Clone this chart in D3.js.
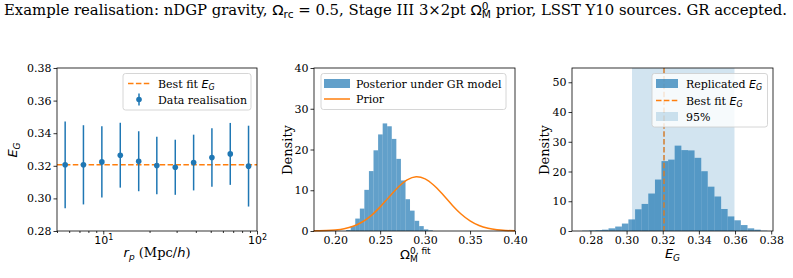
<!DOCTYPE html>
<html>
<head>
<meta charset="utf-8">
<script src="https://cdn.jsdelivr.net/npm/d3@7"></script>
<style>
  body { margin: 0; background: #fff; }
</style>
</head>
<body>
<div id="container"></div>
<script>
/* DATA */
// left panel: one data realisation of E_G against r_p
const rpCentres = [5.65, 7.43, 9.79, 12.9, 17.0, 22.3, 29.4, 38.7, 50.9, 67.0, 88.1];
const egValues  = [0.3206, 0.3206, 0.3224, 0.3265, 0.3228, 0.3202, 0.3191, 0.3220, 0.3251, 0.3273, 0.3198];
const egErrors  = [0.0266, 0.0243, 0.0218, 0.0199, 0.0184, 0.0176, 0.0169, 0.0171, 0.0179, 0.0190, 0.0248];
const bestFitEG = 0.3207;

// middle panel: posterior histogram of Omega_M under GR + prior curve
const omBinEdges = [0.2121, 0.2172, 0.2223, 0.2274, 0.2324, 0.2375, 0.2426, 0.2477, 0.2528, 0.2578,
                    0.2629, 0.2680, 0.2731, 0.2782, 0.2832, 0.2883, 0.2934, 0.2985, 0.3036, 0.3086];
const omDensity  = [0.25, 1.2, 3.05, 5.5, 10.1, 14.7, 19.8, 23.7, 26.4, 25.7,
                    22.6, 17.7, 12.4, 7.8, 5.0, 2.5, 1.2, 0.4, 0.15];
const priorOm      = [0.176, 0.18, 0.19, 0.20, 0.21, 0.22, 0.23, 0.24, 0.25, 0.26, 0.27, 0.28, 0.29,
                      0.30, 0.31, 0.32, 0.33, 0.34, 0.35, 0.36, 0.37, 0.38, 0.39, 0.40];
const priorDensity = [0.02, 0.04, 0.10, 0.25, 0.56, 1.17, 2.21, 3.79, 5.92, 8.37, 10.75, 12.55, 13.29,
                      12.79, 11.17, 8.87, 6.39, 4.18, 2.48, 1.34, 0.66, 0.29, 0.12, 0.04];

// right panel: replicated E_G histogram
const egBinEdges = [0.2754, 0.2791, 0.2827, 0.2864, 0.2900, 0.2937, 0.2974, 0.3010, 0.3047, 0.3083,
                    0.3120, 0.3157, 0.3193, 0.3230, 0.3266, 0.3303, 0.3340, 0.3376, 0.3413, 0.3449,
                    0.3486, 0.3523, 0.3559, 0.3596, 0.3632, 0.3669, 0.3706, 0.3742, 0.3779];
const egDensity  = [0.1, 0.2, 0.3, 0.45, 0.9, 1.5, 2.5, 3.9, 7.3, 9.1, 12.6, 17.3, 23.5, 24.0,
                    28.7, 27.2, 27.1, 24.6, 20.1, 14.9, 11.6, 7.4, 4.9, 3.6, 2.0, 0.9, 0.45, 0.1];
const eg95 = [0.3030, 0.3597];

/* LAYOUT */
const width = 793, height = 278;
const frameTop = 68, frameBottom = 231;
const xlabelY = 258;
const blue = "#1f77b4", orange = "#ff7f0e";
const serif = "DejaVu Serif", sans = "DejaVu Sans";

const svg = d3.select("#container").append("svg")
  .attr("width", width).attr("height", height)
  .style("font-family", serif);

// write a label made of plain and "math" pieces
function runs(sel, parts) {
  parts.forEach(p => {
    sel.append("tspan")
      .attr("font-family", p.sans ? sans : serif)
      .attr("font-style", p.it ? "italic" : null)
      .attr("font-size", p.size || null)
      .attr("dx", p.dx || null)
      .attr("dy", p.dy || null)
      .text(p.t);
  });
  return sel;
}

function styleAxis(g) {
  g.attr("font-family", serif).attr("font-size", 11);
  g.select(".domain").remove();
  g.selectAll(".tick line").attr("stroke", "#000").attr("stroke-width", 0.8);
  g.selectAll(".tick text").attr("fill", "#000");
}

function frame(x0, x1) {
  svg.append("rect")
    .attr("x", x0).attr("y", frameTop)
    .attr("width", x1 - x0).attr("height", frameBottom - frameTop)
    .attr("fill", "none").attr("stroke", "#000").attr("stroke-width", 0.8);
}

function legendBox(x, y, w, h) {
  svg.append("rect")
    .attr("x", x).attr("y", y).attr("width", w).attr("height", h)
    .attr("rx", 2.5)
    .attr("fill", "#fff").attr("fill-opacity", 0.8)
    .attr("stroke", "#ccc").attr("stroke-width", 0.8);
}

/* TITLE */
runs(svg.append("text")
    .attr("x", 4).attr("y", 15)
    .attr("font-size", 14)
    .attr("textLength", 783).attr("lengthAdjust", "spacingAndGlyphs"), [
  {t: "Example realisation: nDGP gravity, "},
  {t: "Ω", sans: true},
  {t: "rc", sans: true, size: 10, dy: 3},
  {t: " = 0.5, Stage III 3×2pt ", dy: -3},
  {t: "Ω", sans: true},
  {t: "0", sans: true, size: 10, dy: -5},
  {t: "M", sans: true, size: 10, dx: -6.4, dy: 8},
  {t: " prior, LSST Y10 sources. GR accepted.", dy: -3}
]);

/* PANEL 1: E_G vs r_p */
{
  const x0 = 57, x1 = 257;
  const xScale = d3.scaleLog().domain([5, 100]).range([x0, x1]);
  const yScale = d3.scaleLinear().domain([0.28, 0.38]).range([frameBottom, frameTop]);

  // best fit line
  svg.append("line")
    .attr("x1", x0).attr("x2", x1)
    .attr("y1", yScale(bestFitEG)).attr("y2", yScale(bestFitEG))
    .attr("stroke", orange).attr("stroke-width", 1.5)
    .attr("stroke-dasharray", "5.5,2.4");

  const pts = rpCentres.map((r, i) => ({r, v: egValues[i], e: egErrors[i]}));
  svg.append("g").selectAll("line")
    .data(pts).join("line")
    .attr("x1", d => xScale(d.r)).attr("x2", d => xScale(d.r))
    .attr("y1", d => yScale(d.v - d.e)).attr("y2", d => yScale(d.v + d.e))
    .attr("stroke", blue).attr("stroke-width", 1.5);
  svg.append("g").selectAll("circle")
    .data(pts).join("circle")
    .attr("cx", d => xScale(d.r)).attr("cy", d => yScale(d.v))
    .attr("r", 2.8).attr("fill", blue);

  // axes
  svg.append("g")
    .attr("transform", `translate(${x0},0)`)
    .call(d3.axisLeft(yScale).tickValues([0.28, 0.30, 0.32, 0.34, 0.36, 0.38])
      .tickFormat(d3.format(".2f")).tickSize(3.5).tickPadding(2))
    .call(styleAxis);

  const minor = [5, 6, 7, 8, 9, 20, 30, 40, 50, 60, 70, 80, 90];
  svg.append("g")
    .attr("transform", `translate(0,${frameBottom})`)
    .call(d3.axisBottom(xScale).tickValues(minor).tickFormat("").tickSize(2))
    .call(styleAxis);
  const major = svg.append("g")
    .attr("transform", `translate(0,${frameBottom})`)
    .call(d3.axisBottom(xScale).tickValues([10, 100]).tickFormat("").tickSize(3.5).tickPadding(1.5))
    .call(styleAxis);
  major.selectAll(".tick text").attr("font-family", sans).each(function(d) {
    const t = d3.select(this);
    t.append("tspan").text("10");
    t.append("tspan").attr("font-size", 8).attr("dy", -4).text(Math.round(Math.log10(d)));
  });

  // labels
  runs(svg.append("text")
      .attr("transform", "translate(17,150) rotate(-90)")
      .attr("text-anchor", "middle").attr("font-size", 13), [
    {t: "E", sans: true, it: true},
    {t: "G", sans: true, it: true, size: 9, dy: 3}
  ]);
  runs(svg.append("text")
      .attr("x", (x0 + x1) / 2).attr("y", xlabelY - 1)
      .attr("text-anchor", "middle").attr("font-size", 13), [
    {t: "r", sans: true, it: true},
    {t: "p", sans: true, it: true, size: 9, dy: 3},
    {t: " (Mpc/", dy: -3},
    {t: "h", sans: true, it: true},
    {t: ")"}
  ]);

  // legend
  legendBox(123, 73.5, 128, 36.5);
  svg.append("line")
    .attr("x1", 128).attr("x2", 150).attr("y1", 83.5).attr("y2", 83.5)
    .attr("stroke", orange).attr("stroke-width", 1.5).attr("stroke-dasharray", "5.5,2.4");
  runs(svg.append("text").attr("x", 158).attr("y", 87.5).attr("font-size", 11), [
    {t: "Best fit "},
    {t: "E", sans: true, it: true},
    {t: "G", sans: true, it: true, size: 8, dy: 2.5}
  ]);
  svg.append("line")
    .attr("x1", 139).attr("x2", 139).attr("y1", 93.5).attr("y2", 105.5)
    .attr("stroke", blue).attr("stroke-width", 1.5);
  svg.append("circle").attr("cx", 139).attr("cy", 99.5).attr("r", 2.8).attr("fill", blue);
  svg.append("text").attr("x", 158).attr("y", 103.5).attr("font-size", 11).text("Data realisation");

  frame(x0, x1);
}

/* PANEL 2: Omega_M posterior */
{
  const x0 = 314, x1 = 515;
  const xScale = d3.scaleLinear().domain([0.1764, 0.40]).range([x0, x1]);
  const yScale = d3.scaleLinear().domain([0, 40]).range([frameBottom, frameTop]);

  const bins = omDensity.map((d, i) => ({a: omBinEdges[i], b: omBinEdges[i + 1], d}));
  svg.append("g").selectAll("rect")
    .data(bins).join("rect")
    .attr("x", d => xScale(d.a)).attr("width", d => xScale(d.b) - xScale(d.a))
    .attr("y", d => yScale(d.d)).attr("height", d => yScale(0) - yScale(d.d))
    .attr("fill", blue).attr("fill-opacity", 0.7);

  const line = d3.line()
    .x((d, i) => xScale(priorOm[i])).y(d => yScale(d))
    .curve(d3.curveCatmullRom);
  svg.append("path")
    .attr("d", line(priorDensity))
    .attr("fill", "none").attr("stroke", orange).attr("stroke-width", 1.5);

  svg.append("g")
    .attr("transform", `translate(${x0},0)`)
    .call(d3.axisLeft(yScale).tickValues([0, 10, 20, 30, 40]).tickSize(3.5).tickPadding(2))
    .call(styleAxis);
  svg.append("g")
    .attr("transform", `translate(0,${frameBottom})`)
    .call(d3.axisBottom(xScale).tickValues([0.20, 0.25, 0.30, 0.35, 0.40])
      .tickFormat(d3.format(".2f")).tickSize(3.5).tickPadding(1.5))
    .call(styleAxis);

  svg.append("text")
    .attr("transform", "translate(292,150) rotate(-90)")
    .attr("text-anchor", "middle").attr("font-size", 13).text("Density");
  // Omega_M^{0, fit}: subscript and superscript stacked after Omega
  runs(svg.append("text")
      .attr("x", 400).attr("y", xlabelY + 1)
      .attr("font-size", 13), [
    {t: "Ω", sans: true},
    {t: "M", sans: true, size: 9, dy: 2.5},
    {t: "0, fit", sans: true, size: 9, dx: -7.7, dy: -8}
  ]);

  legendBox(321, 73.5, 185, 36);
  svg.append("rect").attr("x", 324).attr("y", 79).attr("width", 26).attr("height", 9)
    .attr("fill", blue).attr("fill-opacity", 0.7);
  svg.append("text").attr("x", 356).attr("y", 87.5).attr("font-size", 11).text("Posterior under GR model");
  svg.append("line").attr("x1", 324).attr("x2", 350).attr("y1", 99).attr("y2", 99)
    .attr("stroke", orange).attr("stroke-width", 1.5);
  svg.append("text").attr("x", 356).attr("y", 103).attr("font-size", 11).text("Prior");

  frame(x0, x1);
}

/* PANEL 3: replicated E_G */
{
  const x0 = 572, x1 = 773;
  const xScale = d3.scaleLinear().domain([0.2698, 0.381]).range([x0, x1]);
  const yScale = d3.scaleLinear().domain([0, 54.8]).range([frameBottom, frameTop]);

  const bins = egDensity.map((d, i) => ({a: egBinEdges[i], b: egBinEdges[i + 1], d}));
  svg.append("g").selectAll("rect")
    .data(bins).join("rect")
    .attr("x", d => xScale(d.a)).attr("width", d => xScale(d.b) - xScale(d.a))
    .attr("y", d => yScale(d.d)).attr("height", d => yScale(0) - yScale(d.d))
    .attr("fill", blue).attr("fill-opacity", 0.7);

  svg.append("line")
    .attr("x1", xScale(bestFitEG)).attr("x2", xScale(bestFitEG))
    .attr("y1", frameTop).attr("y2", frameBottom)
    .attr("stroke", orange).attr("stroke-width", 1.5).attr("stroke-dasharray", "5.5,2.4");

  svg.append("rect")
    .attr("x", xScale(eg95[0])).attr("width", xScale(eg95[1]) - xScale(eg95[0]))
    .attr("y", frameTop).attr("height", frameBottom - frameTop)
    .attr("fill", blue).attr("fill-opacity", 0.2);

  svg.append("g")
    .attr("transform", `translate(${x0},0)`)
    .call(d3.axisLeft(yScale).tickValues([0, 10, 20, 30, 40, 50]).tickSize(3.5).tickPadding(2))
    .call(styleAxis);
  svg.append("g")
    .attr("transform", `translate(0,${frameBottom})`)
    .call(d3.axisBottom(xScale).tickValues([0.28, 0.30, 0.32, 0.34, 0.36, 0.38])
      .tickFormat(d3.format(".2f")).tickSize(3.5).tickPadding(1.5))
    .call(styleAxis);

  svg.append("text")
    .attr("transform", "translate(549,150) rotate(-90)")
    .attr("text-anchor", "middle").attr("font-size", 13).text("Density");
  runs(svg.append("text")
      .attr("x", (x0 + x1) / 2).attr("y", xlabelY)
      .attr("text-anchor", "middle").attr("font-size", 13), [
    {t: "E", sans: true, it: true},
    {t: "G", sans: true, it: true, size: 9, dy: 3}
  ]);

  legendBox(652, 73.5, 115.5, 53.5);
  svg.append("rect").attr("x", 656).attr("y", 79).attr("width", 22).attr("height", 9)
    .attr("fill", blue).attr("fill-opacity", 0.7);
  runs(svg.append("text").attr("x", 686).attr("y", 87.5).attr("font-size", 11), [
    {t: "Replicated "},
    {t: "E", sans: true, it: true},
    {t: "G", sans: true, it: true, size: 8, dy: 2.5}
  ]);
  svg.append("line").attr("x1", 656).attr("x2", 678).attr("y1", 100.5).attr("y2", 100.5)
    .attr("stroke", orange).attr("stroke-width", 1.5).attr("stroke-dasharray", "5.5,2.4");
  runs(svg.append("text").attr("x", 686).attr("y", 104.5).attr("font-size", 11), [
    {t: "Best fit "},
    {t: "E", sans: true, it: true},
    {t: "G", sans: true, it: true, size: 8, dy: 2.5}
  ]);
  svg.append("rect").attr("x", 656).attr("y", 112).attr("width", 22).attr("height", 9)
    .attr("fill", blue).attr("fill-opacity", 0.2);
  svg.append("text").attr("x", 686).attr("y", 120.5).attr("font-size", 11).text("95%");

  frame(x0, x1);
}
</script>
</body>
</html>
